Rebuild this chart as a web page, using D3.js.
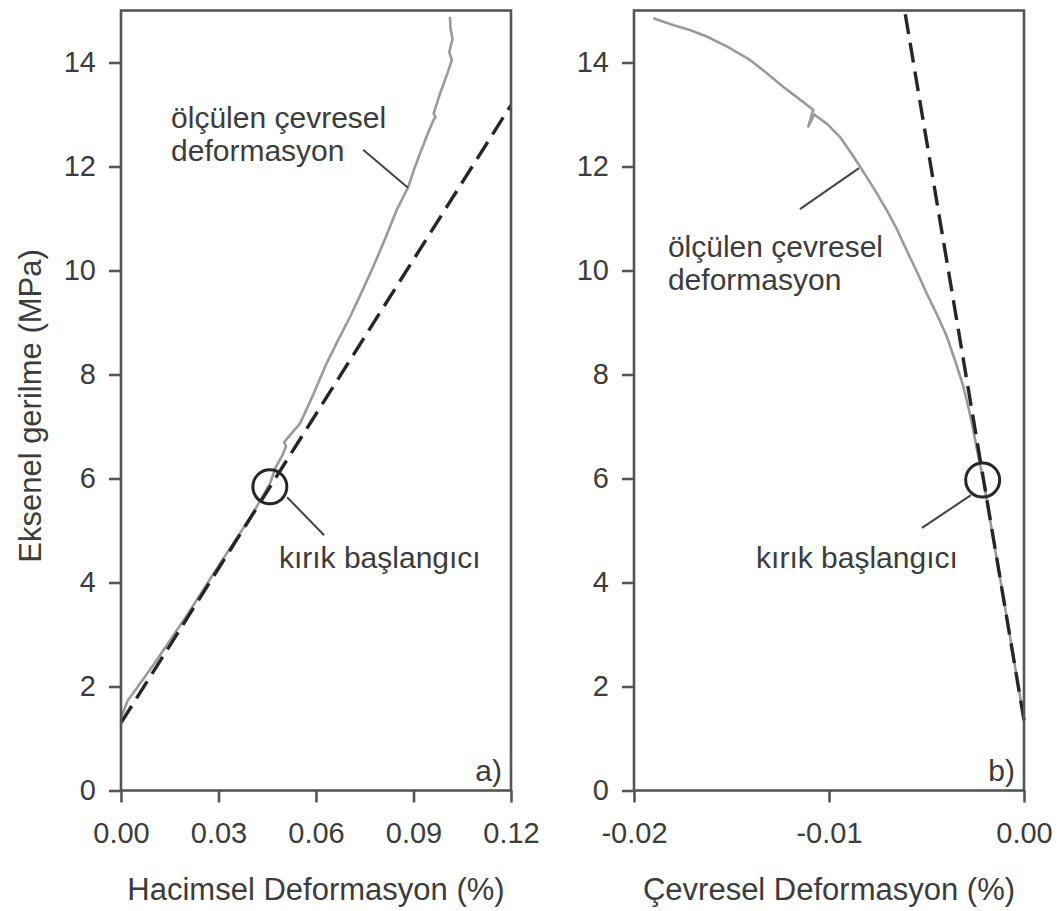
<!DOCTYPE html>
<html>
<head>
<meta charset="utf-8">
<script src="https://cdn.jsdelivr.net/npm/d3@7"></script>
<style>
  body { margin: 0; background: #fff; }
  text { font-family: "Liberation Sans", Arial, sans-serif; fill: #3c3c3c; }
</style>
</head>
<body>
<svg id="chart" width="1060" height="911"></svg>
<script>
// values
var yTicks = [0, 2, 4, 6, 8, 10, 12, 14];
var xTicksA = [0, 0.03, 0.06, 0.09, 0.12];
var xTicksB = [-0.02, -0.01, 0];

var yTitle = "Eksenel gerilme (MPa)";
var xTitleA = "Hacimsel Deformasyon (%)";
var xTitleB = "Çevresel Deformasyon (%)";

// measured curve, panel a (volumetric strain %, axial stress MPa)
var measuredA = [
  [0.000, 1.40], [0.002, 1.72], [0.010, 2.42], [0.020, 3.34], [0.030, 4.32],
  [0.040, 5.27], [0.0458, 5.90], [0.0475, 6.20], [0.0499, 6.48], [0.0508, 6.62],
  [0.0502, 6.70], [0.0551, 7.06], [0.0592, 7.62], [0.0633, 8.22], [0.0668, 8.66],
  [0.0705, 9.11], [0.0740, 9.58], [0.0776, 10.07], [0.0812, 10.60], [0.0848, 11.16],
  [0.0884, 11.61], [0.0902, 11.95], [0.0920, 12.25], [0.0942, 12.60], [0.0961, 12.89],
  [0.0968, 12.95], [0.0962, 13.02], [0.0982, 13.41], [0.1005, 13.80], [0.1018, 14.05],
  [0.1010, 14.20], [0.1020, 14.45], [0.1014, 14.65], [0.1012, 14.88]
];
// linear fit, panel a
var fitA = [[0, 1.30], [0.12, 13.18]];

// measured curve, panel b (circumferential strain %, axial stress MPa)
var measuredB = [
  [-0.01901, 14.85], [-0.01800, 14.72], [-0.01710, 14.62], [-0.01627, 14.50],
  [-0.01520, 14.30], [-0.01405, 14.05], [-0.01320, 13.80], [-0.01234, 13.53],
  [-0.01160, 13.32], [-0.01081, 13.09], [-0.01106, 12.77], [-0.01075, 13.00],
  [-0.01010, 12.82], [-0.00944, 12.57], [-0.00890, 12.28], [-0.00841, 12.00],
  [-0.00770, 11.58], [-0.00704, 11.16], [-0.00650, 10.78], [-0.00602, 10.39],
  [-0.00550, 9.98], [-0.00499, 9.56], [-0.00446, 9.15], [-0.00396, 8.73],
  [-0.00352, 8.25], [-0.00311, 7.77], [-0.00284, 7.35], [-0.00260, 6.93],
  [-0.00234, 6.42], [-0.00209, 5.97], [-0.00160, 4.90], [-0.00110, 3.80],
  [-0.00060, 2.70], [-0.00020, 1.80], [0, 1.35]
];
// linear fit, panel b
var fitB = [[0, 1.35], [-0.00612, 15]];

// crack initiation points
var crackA = [0.0458, 5.84];
var crackB = [-0.00212, 5.97];

var svg = d3.select("#chart");

var y = d3.scaleLinear().domain([0, 15]).range([790.5, 10.5]);

function drawPanel(p) {
  var x = d3.scaleLinear().domain(p.domain).range([p.left, p.right]);
  var g = svg.append("g");

  var line = d3.line()
    .x(function(d) { return x(d[0]); })
    .y(function(d) { return y(d[1]); });

  // measured curve
  g.append("path")
    .datum(p.measured)
    .attr("d", line)
    .attr("fill", "none")
    .attr("stroke", "#9a9a9a")
    .attr("stroke-width", 2.6)
    .attr("stroke-linejoin", "round");

  // fitted line
  g.append("path")
    .datum(p.fit)
    .attr("d", line)
    .attr("fill", "none")
    .attr("stroke", "#262626")
    .attr("stroke-width", 3.4)
    .attr("stroke-dasharray", "20,9");

  // crack initiation circle
  g.append("circle")
    .attr("cx", x(p.crack[0]))
    .attr("cy", y(p.crack[1]))
    .attr("r", 17)
    .attr("fill", "none")
    .attr("stroke", "#262626")
    .attr("stroke-width", 3);

  // frame
  g.append("rect")
    .attr("x", p.left)
    .attr("y", y(15))
    .attr("width", p.right - p.left)
    .attr("height", y(0) - y(15))
    .attr("fill", "none")
    .attr("stroke", "#555")
    .attr("stroke-width", 2.6);

  // axes
  var xAxis = d3.axisBottom(x)
    .tickValues(p.xTicks)
    .tickSize(12)
    .tickSizeOuter(0)
    .tickPadding(20)
    .tickFormat(function(d) { return d.toFixed(2); });

  var yAxis = d3.axisLeft(y)
    .tickValues(yTicks)
    .tickSize(12)
    .tickSizeOuter(0)
    .tickPadding(13)
    .tickFormat(d3.format("d"));

  var gx = g.append("g")
    .attr("transform", "translate(0," + y(0) + ")")
    .call(xAxis);
  var gy = g.append("g")
    .attr("transform", "translate(" + p.left + ",0)")
    .call(yAxis);

  [gx, gy].forEach(function(a) {
    a.select(".domain").remove();
    a.selectAll(".tick line").attr("stroke", "#555").attr("stroke-width", 2.6);
    a.selectAll(".tick text")
      .attr("fill", "#3c3c3c")
      .style("font-size", "29px")
      .style("font-family", "'Liberation Sans', Arial, sans-serif");
  });

  // x title
  g.append("text")
    .attr("x", (p.left + p.right) / 2)
    .attr("y", 900)
    .attr("text-anchor", "middle")
    .style("font-size", "31px")
    .text(p.xTitle);

  // leader lines
  p.leaders.forEach(function(l) {
    g.append("line")
      .attr("x1", x(l[0][0])).attr("y1", y(l[0][1]))
      .attr("x2", x(l[1][0])).attr("y2", y(l[1][1]))
      .attr("stroke", "#444")
      .attr("stroke-width", 2);
  });

  // annotation texts
  var t1 = g.append("text")
    .attr("x", x(p.measLabel[0]))
    .attr("y", y(p.measLabel[1]))
    .style("font-size", "30px");
  t1.append("tspan").text("ölçülen çevresel");
  t1.append("tspan")
    .attr("x", x(p.measLabel[0]))
    .attr("dy", 33)
    .text("deformasyon");

  g.append("text")
    .attr("x", x(p.crackLabel[0]))
    .attr("y", y(p.crackLabel[1]))
    .style("font-size", "30px")
    .text("kırık başlangıcı");

  g.append("text")
    .attr("x", p.right - 9)
    .attr("y", y(0.18))
    .attr("text-anchor", "end")
    .style("font-size", "30px")
    .text(p.tag);
}

drawPanel({
  domain: [0, 0.12], left: 121, right: 511,
  xTicks: xTicksA, xTitle: xTitleA,
  measured: measuredA, fit: fitA, crack: crackA,
  measLabel: [0.0154, 12.74],
  crackLabel: [0.0486, 4.28],
  leaders: [
    [[0.0745, 12.32], [0.0883, 11.59]],
    [[0.0511, 5.64], [0.0625, 4.91]]
  ],
  tag: "a)"
});

drawPanel({
  domain: [-0.02, 0], left: 634, right: 1024,
  xTicks: xTicksB, xTitle: xTitleB,
  measured: measuredB, fit: fitB, crack: crackB,
  measLabel: [-0.01826, 10.26],
  crackLabel: [-0.01374, 4.28],
  leaders: [
    [[-0.01149, 11.18], [-0.00846, 11.97]],
    [[-0.00523, 5.05], [-0.00272, 5.68]]
  ],
  tag: "b)"
});

// shared y title
svg.append("text")
  .attr("transform", "translate(41,406) rotate(-90)")
  .attr("text-anchor", "middle")
  .style("font-size", "31px")
  .text(yTitle);
</script>
</body>
</html>
